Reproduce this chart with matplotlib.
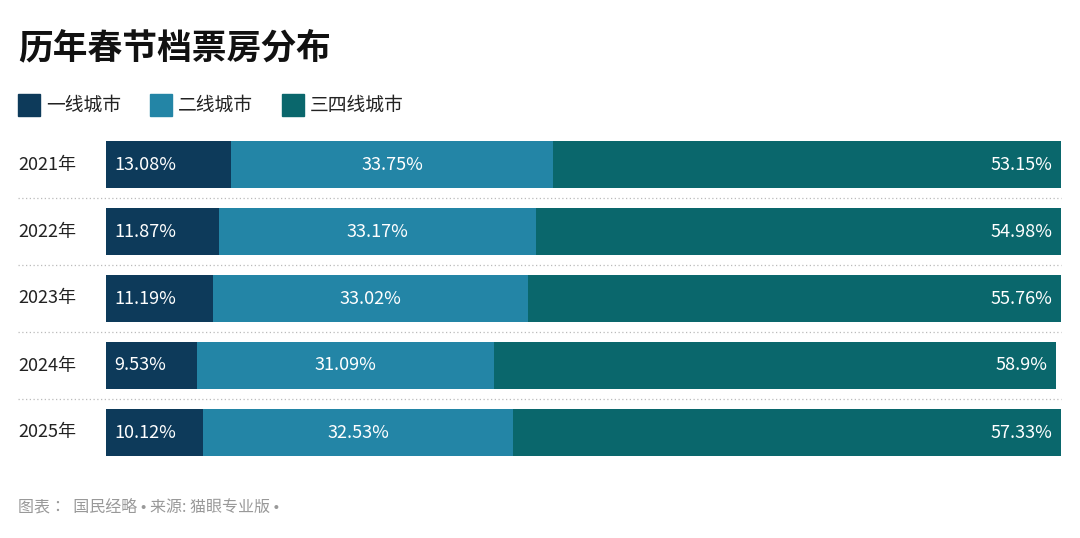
import matplotlib
matplotlib.use("Agg")
import matplotlib.pyplot as plt
from matplotlib.patches import Rectangle
from matplotlib import font_manager as fm

cjk = [f.name for f in fm.fontManager.ttflist if "CJK" in f.name]
fams = ["Noto Sans CJK SC", "Noto Sans CJK JP", "Noto Sans CJK TC", "Noto Sans CJK KR"] + sorted(set(cjk)) + ["DejaVu Sans"]
plt.rcParams["font.family"] = fams

years = ["2021年", "2022年", "2023年", "2024年", "2025年"]
tier1 = [13.08, 11.87, 11.19, 9.53, 10.12]
tier2 = [33.75, 33.17, 33.02, 31.09, 32.53]
tier34 = [53.15, 54.98, 55.76, 58.9, 57.33]
series_names = ["一线城市", "二线城市", "三四线城市"]
colors = ["#0d3a5a", "#2385a6", "#0a676c"]

W, H = 1080, 538
fig = plt.figure(figsize=(W / 100, H / 100), dpi=100)
ax = fig.add_axes([106 / W, (H - 466) / H, 955 / W, 335 / H])
ax.set_xlim(0, 100)
ax.set_ylim(4.5, -0.5)
ax.axis("off")

n = len(years)
for i in range(n):
    left = 0
    for s, vals in enumerate([tier1, tier2, tier34]):
        v = vals[i]
        ax.barh(i, v, left=left, height=0.69, color=colors[s])
        lab = f"{v:g}%" if s == 2 else f"{v:.2f}%"
        if s == 0:
            ax.text(left + 0.9, i, lab, color="white", va="center", ha="left", fontsize=13)
        elif s == 1:
            ax.text(left + v / 2, i, lab, color="white", va="center", ha="center", fontsize=13)
        else:
            ax.text(left + v - 0.9, i, lab, color="white", va="center", ha="right", fontsize=13)
        left += v
    ax.text(-9.2, i, years[i], va="center", ha="left", fontsize=13, color="#222222")
    if i < n - 1:
        ax.plot([-9.2, 100], [i + 0.5, i + 0.5], ls=(0, (1, 2)), color="#bbbbbb", lw=0.9, clip_on=False)

fig.text(18 / W, 1 - 48 / H, "历年春节档票房分布", fontsize=25, fontweight="bold", va="center", ha="left", color="#111111")

lx = [18, 150, 282]
for k, name in enumerate(series_names):
    fig.patches.append(Rectangle((lx[k] / W, 1 - 116 / H), 22 / W, 22 / H, transform=fig.transFigure, color=colors[k]))
    fig.text((lx[k] + 28) / W, 1 - 105 / H, name, fontsize=13.5, va="center", ha="left", color="#222222")

fig.text(18 / W, 1 - 507 / H, "图表：  国民经略 • 来源: 猫眼专业版 •", fontsize=11.5, va="center", ha="left", color="#999999")

fig.savefig("out.png", dpi=100, facecolor="white")
